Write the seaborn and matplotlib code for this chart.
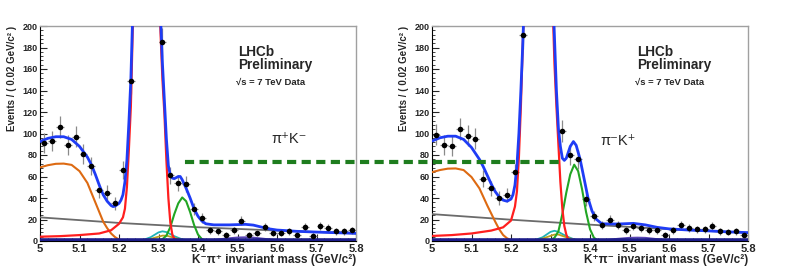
import numpy as np
import seaborn as sns
import matplotlib.pyplot as plt
from matplotlib.patches import ConnectionPatch
from matplotlib.ticker import MultipleLocator, FuncFormatter

sns.set_style('ticks')
plt.rcParams['font.family'] = ['Liberation Sans', 'DejaVu Sans']

# bin centres, 0.02 GeV/c^2 wide
mass = [5.01, 5.03, 5.05, 5.07, 5.09, 5.11, 5.13, 5.15, 5.17, 5.19,
        5.21, 5.23, 5.25, 5.27, 5.29, 5.31, 5.33, 5.35, 5.37, 5.39,
        5.41, 5.43, 5.45, 5.47, 5.49, 5.51, 5.53, 5.55, 5.57, 5.59,
        5.61, 5.63, 5.65, 5.67, 5.69, 5.71, 5.73, 5.75, 5.77, 5.79]

# events per bin (bins under the B0 peak are off scale)
counts_L = [91, 93, 106, 89, 97, 81, 70, 47, 45, 35,
            66, 149, 420, 760, 520, 185, 61, 54, 53, 30,
            21, 10, 9, 6, 10, 19, 6, 7, 13, 7,
            7, 9, 6, 13, 5, 14, 12, 9, 9, 10]
counts_R = [99, 89, 88, 104, 98, 95, 58, 49, 40, 43,
            64, 192, 400, 750, 560, 240, 102, 80, 76, 39,
            23, 15, 20, 15, 10, 14, 12, 10, 10, 6,
            10, 15, 12, 11, 11, 14, 9, 8, 9, 6]

# ---- fit components, K- pi+ (left) ----
total_L_x = [5.00, 5.02, 5.04, 5.06, 5.08, 5.10, 5.12, 5.13, 5.14, 5.15, 5.16, 5.17, 5.18,
             5.185, 5.19, 5.20, 5.205, 5.21, 5.215, 5.22, 5.225, 5.23, 5.235, 5.24,
             5.25, 5.27, 5.29, 5.30, 5.305, 5.31, 5.315, 5.32, 5.325, 5.33, 5.335, 5.34, 5.345, 5.35, 5.355, 5.36,
             5.37, 5.38, 5.39, 5.40, 5.41, 5.42, 5.44, 5.48, 5.52, 5.54, 5.56, 5.58, 5.60,
             5.65, 5.70, 5.75, 5.80]
total_L_y = [92.5, 95.5, 97, 97, 94.5, 88, 78, 71, 62, 52, 43, 37, 33,
             32, 32.5, 35, 38, 43, 55, 75, 110, 150, 215, 330,
             650, 950, 520, 280, 210, 165, 130, 95, 70, 61, 58.5, 58, 59, 60, 60, 57,
             49, 40, 30, 23, 18.5, 16, 15, 15, 15.5, 14.8, 13, 11.3, 10.2,
             9, 8.3, 7.7, 7.1]
red_L_x = [5.00, 5.05, 5.10, 5.15, 5.18, 5.20, 5.21, 5.215, 5.22, 5.225,
           5.23, 5.235, 5.24, 5.25, 5.27, 5.29, 5.30, 5.305, 5.31, 5.315,
           5.32, 5.325, 5.33, 5.335, 5.34, 5.35, 5.40, 5.80]
red_L_y = [4, 4.5, 5.5, 7, 10, 16, 22, 30, 50, 85,
           125, 200, 310, 620, 920, 500, 260, 195, 150, 118,
           75, 40, 17, 6, 2, 0.3, 0, 0]
orange_L_x = [5.00, 5.02, 5.04, 5.06, 5.08, 5.10, 5.12, 5.14, 5.16, 5.17, 5.18, 5.19, 5.20, 5.21, 5.22]
orange_L_y = [68.5, 70.5, 71.8, 72, 70.8, 65, 54, 36, 18, 12, 7, 3.6, 1.3, 0.3, 0]
grey_L_x = [5.0, 5.2, 5.4, 5.6, 5.8]
grey_L_y = [22, 16.8, 12.8, 9.7, 7.0]
green_L_x = [5.28, 5.30, 5.31, 5.32, 5.33, 5.34, 5.35, 5.36, 5.37, 5.38, 5.39, 5.40, 5.41, 5.42, 5.44]
green_L_y = [0, 0.5, 1.7, 5, 13, 25, 35, 40.5, 37, 27, 15, 6, 1.7, 0.3, 0]
cyan_x = [5.24, 5.26, 5.28, 5.30, 5.31, 5.32, 5.34, 5.36, 5.38, 5.40]
cyan_L_y = [0, 0.8, 3.5, 8, 9, 8.3, 4.5, 1.5, 0.3, 0]
olive_x = [5.25, 5.27, 5.29, 5.31, 5.32, 5.34, 5.36, 5.38]
olive_L_y = [0, 0.8, 3, 5, 5, 3, 1, 0]
purple_x = [5.40, 5.44, 5.47, 5.50, 5.52, 5.54, 5.57, 5.60, 5.63]
purple_L_y = [0, 1, 2.3, 3.3, 3.5, 3.2, 2, 0.7, 0]
navy_x = [5.0, 5.8]
navy_y = [0.6, 0.6]

# ---- fit components, K+ pi- (right) ----
total_R_x = [5.00, 5.02, 5.04, 5.06, 5.08, 5.10, 5.12, 5.13, 5.14, 5.15, 5.16, 5.17, 5.18, 5.19, 5.20,
             5.205, 5.21, 5.215, 5.22, 5.225, 5.23, 5.235,
             5.25, 5.27, 5.29, 5.30, 5.305, 5.31, 5.315, 5.32, 5.325, 5.33, 5.335, 5.34, 5.35, 5.358,
             5.365, 5.375, 5.385, 5.395, 5.405, 5.415, 5.43,
             5.47, 5.51, 5.54, 5.57, 5.60, 5.65, 5.70, 5.75, 5.80]
total_R_y = [93, 96, 97.5, 97.5, 94.5, 87, 76, 69, 61, 53, 46, 41, 38, 37, 39,
             43, 52, 70, 100, 140, 185, 240,
             650, 950, 600, 330, 240, 190, 140, 105, 88, 77, 75, 77, 88, 92.5,
             89, 76, 58, 40, 28, 20.5, 16,
             15.8, 16.4, 15, 12.7, 11.3, 10.2, 9.4, 8.5, 7.8]
red_R_x = [5.00, 5.05, 5.10, 5.15, 5.18, 5.20, 5.21, 5.215, 5.22, 5.225,
           5.23, 5.235, 5.25, 5.27, 5.29, 5.30, 5.305, 5.31, 5.315, 5.32,
           5.325, 5.33, 5.335, 5.34, 5.345, 5.35, 5.40, 5.80]
red_R_y = [4.7, 5.5, 7, 9.7, 12.7, 19, 32, 46, 78, 125,
           185, 250, 620, 920, 580, 300, 225, 165, 125, 90,
           55, 30, 14, 6, 1.5, 0.5, 0, 0]
orange_R_x = [5.00, 5.02, 5.04, 5.06, 5.08, 5.10, 5.12, 5.14, 5.16, 5.17, 5.18, 5.19, 5.20, 5.21, 5.22]
orange_R_y = [64, 66, 67.3, 67.5, 66, 59.5, 49, 33, 18, 11, 5.6, 2.5, 0.8, 0.2, 0]
grey_R_x = [5.0, 5.2, 5.4, 5.6, 5.8]
grey_R_y = [25, 19.8, 15.2, 11.0, 7.6]
green_R_x = [5.29, 5.30, 5.31, 5.32, 5.33, 5.34, 5.35, 5.36, 5.37, 5.38, 5.39, 5.40, 5.41, 5.42, 5.44]
green_R_y = [0, 0.8, 3, 9, 25, 45, 62, 71, 65, 48, 27, 11, 3, 0.5, 0]
cyan_R_y = [0, 0.8, 3.5, 8.5, 9.5, 8.5, 4.5, 1.5, 0.3, 0]
olive_R_y = [0, 1, 3.5, 6, 6, 3.5, 1.2, 0]
purple_R_y = [0, 0.9, 2.1, 3.0, 3.2, 3.0, 1.8, 0.6, 0]

# level of the horizontal dashed line and its ends on each panel
dash_level = 73.5
dash_start_L = 5.367
dash_end_R = 5.332

C_BLUE = '#1f3cf5'
C_RED = '#ff1f1f'
C_ORANGE = '#dd6a12'
C_GREY = '#6b6b6b'
C_GREEN = '#22a524'
C_CYAN = '#1fb3b8'
C_OLIVE = '#b9a01e'
C_PURPLE = '#5a45b5'
C_NAVY = '#1c1c8a'


def curve(ax, x, y, color, lw, z=3):
    sns.lineplot(x=x, y=y, ax=ax, color=color, linewidth=lw,
                 estimator=None, sort=False, zorder=z)


def panel(ax, counts, comps, xlabel, lab, lab_pos, lhcb_x):
    tot_x, tot_y, red_x, red_y, or_x, or_y, gr_x, gr_y, g_x, g_y, cy_y, ol_y, pu_y = comps
    ax.errorbar(mass, counts, yerr=np.sqrt(counts), xerr=0.01, fmt='none',
                ecolor='#8a8a8a', elinewidth=0.9, capsize=0, zorder=2)
    curve(ax, gr_x, gr_y, C_GREY, 1.3)
    curve(ax, or_x, or_y, C_ORANGE, 1.5)
    curve(ax, cyan_x, cy_y, C_CYAN, 1.3)
    curve(ax, olive_x, ol_y, C_OLIVE, 1.3)
    curve(ax, purple_x, pu_y, C_PURPLE, 1.3)
    curve(ax, g_x, g_y, C_GREEN, 1.5)
    curve(ax, red_x, red_y, C_RED, 1.6)
    curve(ax, navy_x, navy_y, C_NAVY, 2.6)
    curve(ax, tot_x, tot_y, C_BLUE, 2.0, z=4)
    sns.scatterplot(x=mass, y=counts, ax=ax, color='black', s=16,
                    edgecolor='black', linewidth=0, zorder=5)

    ax.set_xlim(5.0, 5.8)
    ax.set_ylim(0, 200)
    ax.xaxis.set_major_locator(MultipleLocator(0.1))
    ax.xaxis.set_minor_locator(MultipleLocator(0.02))
    ax.yaxis.set_major_locator(MultipleLocator(20))
    ax.yaxis.set_minor_locator(MultipleLocator(4))
    ax.xaxis.set_major_formatter(FuncFormatter(lambda v, p: f'{v:g}'))
    ax.tick_params(which='both', direction='in', top=False, right=False)
    ax.tick_params(axis='y', which='major', length=5, width=0.8, labelsize=6.5, pad=1.5)
    ax.tick_params(axis='y', which='minor', length=2.5, width=0.6)
    ax.tick_params(axis='x', which='major', length=5, width=0.8, labelsize=8, pad=2)
    ax.tick_params(axis='x', which='minor', length=2.5, width=0.6)
    for t in ax.get_xticklabels() + ax.get_yticklabels():
        t.set_fontweight('bold')
    for s in ['left', 'bottom']:
        ax.spines[s].set_color('black')
        ax.spines[s].set_linewidth(0.8)
    for s in ['top', 'right']:
        ax.spines[s].set_visible(True)
        ax.spines[s].set_color('#a0a0a0')
        ax.spines[s].set_linewidth(1.0)

    ax.set_ylabel('Events / ( 0.02 GeV/c² )', fontsize=7, fontweight='bold', loc='top')
    ax.yaxis.set_label_coords(-0.073, 1.0)
    ax.set_xlabel(xlabel, fontsize=8.5, fontweight='bold', loc='right')
    ax.xaxis.set_label_coords(1.0, -0.062)

    ax.text(lhcb_x, 0.862, 'LHCb', transform=ax.transAxes, fontsize=9.8,
            fontweight='bold', va='baseline')
    ax.text(lhcb_x, 0.799, 'Preliminary', transform=ax.transAxes, fontsize=9.8,
            fontweight='bold', va='baseline')
    ax.text(lhcb_x - 0.006, 0.728, '√s = 7 TeV Data', transform=ax.transAxes,
            fontsize=6.8, fontweight='bold', va='baseline')
    ax.text(lab_pos[0], lab_pos[1], lab, transform=ax.transAxes, fontsize=10.5,
            va='baseline')


fig = plt.figure(figsize=(7.88, 2.68), dpi=100)
ax1 = fig.add_axes([40 / 788, 27 / 268, 316 / 788, 215 / 268])
ax2 = fig.add_axes([432 / 788, 27 / 268, 316 / 788, 215 / 268])

panel(ax1, counts_L,
      (total_L_x, total_L_y, red_L_x, red_L_y, orange_L_x, orange_L_y, grey_L_x, grey_L_y,
       green_L_x, green_L_y, cyan_L_y, olive_L_y, purple_L_y),
      'K⁻π⁺ invariant mass (GeV/c²)', 'π⁺K⁻', (0.733, 0.456), 0.627)
panel(ax2, counts_R,
      (total_R_x, total_R_y, red_R_x, red_R_y, orange_R_x, orange_R_y, grey_R_x, grey_R_y,
       green_R_x, green_R_y, cyan_R_y, olive_R_y, purple_R_y),
      'K⁺π⁻ invariant mass (GeV/c²)', 'π⁻K⁺', (0.532, 0.447), 0.648)

con = ConnectionPatch(xyA=(dash_start_L, dash_level), coordsA='data', axesA=ax1,
                      xyB=(dash_end_R, dash_level), coordsB='data', axesB=ax2,
                      color='#1e7d1e', linewidth=3, linestyle=(0, (2.2, 1.3)),
                      capstyle='butt', zorder=10)
fig.add_artist(con)

fig.savefig('out.png', dpi=100)
